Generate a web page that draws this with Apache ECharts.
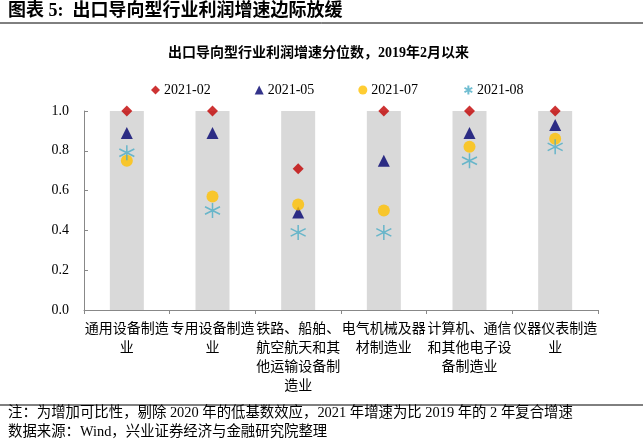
<!DOCTYPE html>
<html><head><meta charset="utf-8">
<script src="https://cdn.jsdelivr.net/npm/echarts@6/dist/echarts.min.js"></script>
<style>html,body{margin:0;padding:0;background:#fff}#c{width:643px;height:442px}</style>
</head><body><div id="c"></div>
<script>
const categories = ['通用设备制造业','专用设备制造业','铁路、船舶、航空航天和其他运输设备制造业','电气机械及器材制造业','计算机、通信和其他电子设备制造业','仪器仪表制造业'];
const seriesNames = ['2021-02','2021-05','2021-07','2021-08'];
const v202102 = [1.00, 1.00, 0.71, 1.00, 1.00, 1.00];
const v202105 = [0.89, 0.89, 0.49, 0.75, 0.89, 0.93];
const v202107 = [0.75, 0.57, 0.53, 0.50, 0.82, 0.86];
const v202108 = [0.79, 0.50, 0.39, 0.39, 0.75, 0.82];
const backdrop = [1, 1, 1, 1, 1, 1];
const yTicks = [0, 0.2, 0.4, 0.6, 0.8, 1.0];

const FONT = '"Liberation Serif", "Noto Sans CJK SC", serif';
const starPath = 'path://M0,-10L0,10M-8.66,-5L8.66,5M-8.66,5L8.66,-5';

const chart = echarts.init(document.getElementById('c'), null, {renderer:'canvas'});
chart.setOption({
  animation: false,
  textStyle: {fontFamily: FONT},
  graphic: [
    {type:'text', left: 8, top: 2, style:{text:'图表 5:  出口导向型行业利润增速边际放缓', font:'bold 18px ' + FONT, fill:'#000'}},
    {type:'line', shape:{x1:0, y1:23, x2:643, y2:23}, style:{stroke:'#000', lineWidth:1}},
    {type:'text', left: 168, top: 46, style:{text:'出口导向型行业利润增速分位数，2019年2月以来', font:'bold 14px ' + FONT, fill:'#000'}},
    {type:'line', shape:{x1:0, y1:405, x2:643, y2:405}, style:{stroke:'#000', lineWidth:1}},
    {type:'text', left: 8, top: 406, style:{text:'注：为增加可比性，剔除 2020 年的低基数效应，2021 年增速为比 2019 年的 2 年复合增速', font:'14.4px ' + FONT, fill:'#000'}},
    {type:'text', left: 8, top: 425, style:{text:'数据来源：Wind，兴业证券经济与金融研究院整理', font:'14.4px ' + FONT, fill:'#000'}}
  ],
  legend: {
    data: seriesNames,
    left: 146, top: 78,
    itemWidth: 9, itemHeight: 9, itemGap: 44,
    textStyle: {fontFamily: FONT, fontSize: 14, color:'#000', padding:[0,0,0,-1]}
  },
  grid: {left: 84, right: 45, top: 111, bottom: 132},
  xAxis: {
    type: 'category',
    data: categories,
    axisLine: {lineStyle:{color:'#888'}},
    axisTick: {show:true, lineStyle:{color:'#888'}, length: 4},
    axisLabel: {interval:0, color:'#000', fontSize: 14, fontFamily: FONT, width: 86, overflow:'break', lineHeight: 19, margin: 10}
  },
  yAxis: {
    type: 'value', min: 0, max: 1, interval: 0.2,
    axisLine: {show:true, lineStyle:{color:'#888'}},
    axisTick: {show:true, inside:true, lineStyle:{color:'#888'}, length: 4},
    splitLine: {show:false},
    axisLabel: {color:'#000', fontSize: 14, fontFamily: FONT, margin: 15, formatter: v => v.toFixed(1)}
  },
  series: [
    {type:'bar', data: backdrop, barWidth: 34, itemStyle:{color:'#d9d9d9'}, silent:true, z:1},
    {name: seriesNames[0], type:'scatter', data: v202102, symbol:'diamond', symbolSize: 11, itemStyle:{color:'#c00000'}, z:5},
    {name: seriesNames[1], type:'scatter', data: v202105, symbol:'triangle', symbolSize: 12, itemStyle:{color:'#00006e'}, z:5},
    {name: seriesNames[2], type:'scatter', data: v202107, symbol:'circle', symbolSize: 12, itemStyle:{color:'#ffc000'}, z:5},
    {name: seriesNames[3], type:'scatter', data: v202108, symbol: starPath, symbolSize: 15, itemStyle:{color:'none', borderColor:'#4bacc6', borderWidth:1.5}, z:6}
  ]
});
</script></body></html>
